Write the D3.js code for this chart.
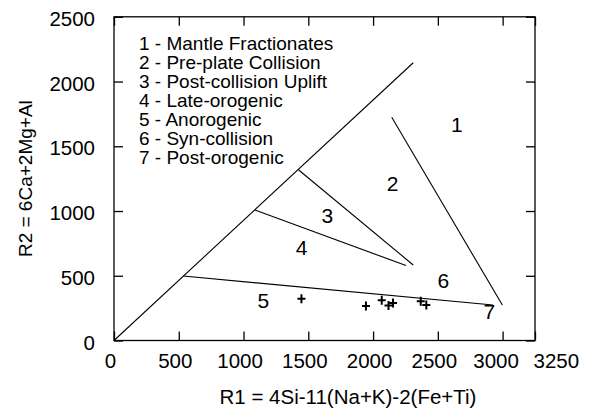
<!DOCTYPE html>
<html>
<head>
<meta charset="utf-8">
<script src="https://cdn.jsdelivr.net/npm/d3@7"></script>
<style>
  body { margin: 0; background: #fff; }
  text { font-family: "Liberation Sans", Arial, sans-serif; fill: #000; }
</style>
</head>
<body>
<div id="chart"></div>
<script>
// tick values
const xTicks = [0, 500, 1000, 1500, 2000, 2500, 3000, 3250];
const yTicks = [0, 500, 1000, 1500, 2000, 2500];

// field boundaries, [R1 start, R2 start, R1 end, R2 end]
const boundaryLines = [
  [0, 0, 2310, 2145],
  [535, 498, 2926, 274],
  [2144, 1724, 2998, 274],
  [1426, 1317, 2310, 583],
  [1088, 1008, 2254, 579]
];

// field numbers and where they sit (R1, R2)
const fieldNames = ["1", "2", "3", "4", "5", "6", "7"];
const fieldR1 = [2646, 2151, 1647, 1449, 1153, 2542, 2897];
const fieldR2 = [1672, 1216, 969, 722, 313, 467, 222];

const legendItems = [
  "1 - Mantle Fractionates",
  "2 - Pre-plate Collision",
  "3 - Post-collision Uplift",
  "4 - Late-orogenic",
  "5 - Anorogenic",
  "6 - Syn-collision",
  "7 - Post-orogenic"
];

// samples
const sampleR1 = [1447, 1945, 2067, 2119, 2154, 2368, 2411];
const sampleR2 = [323, 266, 310, 270, 290, 303, 274];

const width = 591, height = 413;
const margin = { top: 16.8, right: 56, bottom: 72.5, left: 114 };
const fontSize = 19;
const tickFont = 20.5;

const svg = d3.select("#chart")
  .append("svg")
  .attr("width", width)
  .attr("height", height);

const x = d3.scaleLinear()
  .domain([0, 3250])
  .range([margin.left, width - margin.right]);

const y = d3.scaleLinear()
  .domain([0, 2500])
  .range([height - margin.bottom, margin.top]);

// axes, ticks point inward on all four sides
svg.append("g")
  .attr("transform", "translate(0," + y(0) + ")")
  .call(d3.axisBottom(x).tickValues(xTicks).tickFormat(d3.format("d"))
    .tickSizeInner(-9).tickSizeOuter(0).tickPadding(12.5))
  .call(g => g.select(".domain").remove())
  .selectAll("text")
  .attr("text-anchor", d => d === 3250 ? "start" : "middle")
  .attr("dx", d => d === 3250 ? -2 : (d === 3000 ? -7 : -4));

svg.append("g")
  .attr("transform", "translate(0," + y(2500) + ")")
  .call(d3.axisTop(x).tickValues(xTicks).tickSizeInner(-9).tickSizeOuter(0).tickFormat(""))
  .call(g => g.select(".domain").remove());

svg.append("g")
  .attr("transform", "translate(" + x(0) + ",0)")
  .call(d3.axisLeft(y).tickValues(yTicks).tickFormat(d3.format("d"))
    .tickSizeInner(-9).tickSizeOuter(0).tickPadding(19))
  .call(g => g.select(".domain").remove())
  .selectAll("text").attr("dy", "0.42em");

svg.append("g")
  .attr("transform", "translate(" + x(3250) + ",0)")
  .call(d3.axisRight(y).tickValues(yTicks).tickSizeInner(-9).tickSizeOuter(0).tickFormat(""))
  .call(g => g.select(".domain").remove());

svg.selectAll(".tick line").attr("stroke", "#000").attr("stroke-width", 1.3);
svg.selectAll(".tick text")
  .style("font-size", tickFont + "px")
  .style("font-family", "'Liberation Sans', Arial, sans-serif")
  .attr("fill", "#000");

// frame
svg.append("rect")
  .attr("x", x(0))
  .attr("y", y(2500))
  .attr("width", x(3250) - x(0))
  .attr("height", y(0) - y(2500))
  .attr("fill", "none")
  .attr("stroke", "#000")
  .attr("stroke-width", 1.3);

// field boundaries
svg.append("g")
  .selectAll("line")
  .data(boundaryLines)
  .enter()
  .append("line")
  .attr("x1", d => x(d[0]))
  .attr("y1", d => y(d[1]))
  .attr("x2", d => x(d[2]))
  .attr("y2", d => y(d[3]))
  .attr("stroke", "#000")
  .attr("stroke-width", 1.1);

// field numbers
svg.append("g")
  .selectAll("text")
  .data(fieldNames)
  .enter()
  .append("text")
  .attr("x", (d, i) => x(fieldR1[i]))
  .attr("y", (d, i) => y(fieldR2[i]))
  .attr("dy", "0.36em")
  .attr("text-anchor", "middle")
  .style("font-size", "21px")
  .text(d => d);

// legend
svg.append("g")
  .selectAll("text")
  .data(legendItems)
  .enter()
  .append("text")
  .attr("x", 139)
  .attr("y", (d, i) => 43 + i * 19)
  .attr("dy", "0.36em")
  .style("font-size", fontSize + "px")
  .text(d => d);

// sample crosses
svg.append("g")
  .selectAll("path")
  .data(sampleR1)
  .enter()
  .append("path")
  .attr("transform", (d, i) => "translate(" + x(d) + "," + y(sampleR2[i]) + ")")
  .attr("d", "M-4,0H4M0,-4.5V4.5")
  .attr("stroke", "#000")
  .attr("stroke-width", 2)
  .attr("fill", "none");

// axis titles
svg.append("text")
  .attr("x", 348)
  .attr("y", 404)
  .attr("text-anchor", "middle")
  .style("font-size", "20.5px")
  .text("R1 = 4Si-11(Na+K)-2(Fe+Ti)");

svg.append("text")
  .attr("transform", "translate(32," + (y(0) + y(2500)) / 2 + ") rotate(-90)")
  .attr("text-anchor", "middle")
  .style("font-size", fontSize + "px")
  .text("R2 = 6Ca+2Mg+Al");
</script>
</body>
</html>
